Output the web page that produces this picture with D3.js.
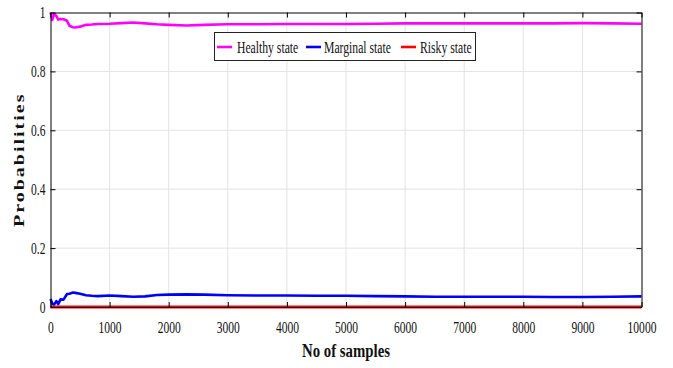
<!DOCTYPE html>
<html>
<head>
<meta charset="utf-8">
<script src="https://cdn.jsdelivr.net/npm/d3@7"></script>
<style>
  html, body { margin: 0; padding: 0; background: #fff; }
  svg { display: block; }
  svg text { font-family: "Liberation Serif", "Times New Roman", serif; }
  .grid line { stroke: #e3e3e3; stroke-width: 1; }
</style>
</head>
<body>
<svg id="chart" width="673" height="368"></svg>
<script>
// Sample positions (x) and probability per state
const samples = [0, 30, 60, 100, 130, 170, 220, 280, 320, 380, 420, 500, 600, 700, 800,
  1000, 1200, 1400, 1600, 1800, 2000, 2300, 2600, 3000, 3500, 4000, 4500, 5000, 5500,
  6000, 6500, 7000, 7500, 8000, 8500, 9000, 9500, 10000];
const healthy = [1.0, 0.975, 0.995, 0.988, 0.976, 0.978, 0.977, 0.972, 0.955, 0.950, 0.949,
  0.952, 0.958, 0.959, 0.961, 0.962, 0.964, 0.966, 0.963, 0.960, 0.958, 0.956, 0.958, 0.960,
  0.960, 0.961, 0.961, 0.961, 0.962, 0.963, 0.963, 0.963, 0.963, 0.963, 0.963, 0.964, 0.963, 0.962];
const marginal = [0.027, 0.012, 0.008, 0.020, 0.010, 0.026, 0.025, 0.044, 0.045, 0.049, 0.048,
  0.045, 0.040, 0.038, 0.037, 0.039, 0.037, 0.035, 0.036, 0.041, 0.042, 0.043, 0.042, 0.040,
  0.039, 0.039, 0.038, 0.038, 0.037, 0.036, 0.035, 0.035, 0.035, 0.035, 0.034, 0.034, 0.035, 0.036];
const risky = samples.map(() => 0);

const seriesNames = ['Healthy state', 'Marginal state', 'Risky state'];
const seriesColors = ['#ff00ff', '#0000ff', '#ff0000'];
const xTicks = d3.range(0, 10001, 1000);
const yTicks = [0, 0.2, 0.4, 0.6, 0.8, 1];

const SX = 0.72; // the reference text is horizontally squeezed

const svg = d3.select('#chart');
const L = 50.5, R = 641.5, T = 12.5, B = 307;
const x = d3.scaleLinear().domain([0, 10000]).range([L, R]);
const y = d3.scaleLinear().domain([0, 1]).range([B, T]);

// grid
const grid = svg.append('g').attr('class', 'grid');
grid.selectAll('.gx').data(xTicks.slice(1, -1)).enter().append('line')
  .attr('x1', d => x(d)).attr('x2', d => x(d)).attr('y1', T).attr('y2', B);
grid.selectAll('.gy').data(yTicks.slice(1, -1)).enter().append('line')
  .attr('x1', L).attr('x2', R).attr('y1', d => y(d)).attr('y2', d => y(d));

// series lines
const line = d3.line().x((d, i) => x(samples[i])).y(d => y(d));
[healthy, marginal, risky].forEach((vals, k) => {
  svg.append('path')
    .attr('d', line(vals))
    .attr('fill', 'none')
    .attr('stroke', seriesColors[k])
    .attr('stroke-width', k === 2 ? 3 : 2.6)
    .attr('stroke-linejoin', 'round');
});

// axes (ticks pointing inward, box all round)
const tickFmt = d3.format('');
const xb = svg.append('g').attr('transform', `translate(0,${B})`)
  .call(d3.axisBottom(x).tickValues(xTicks).tickSizeInner(-5).tickSizeOuter(0).tickPadding(15).tickFormat(tickFmt));
const xt = svg.append('g').attr('transform', `translate(0,${T})`)
  .call(d3.axisTop(x).tickValues(xTicks).tickSizeInner(-5).tickSizeOuter(0).tickFormat(''));
const yl = svg.append('g').attr('transform', `translate(${L},0)`)
  .call(d3.axisLeft(y).tickValues(yTicks).tickSizeInner(-5).tickSizeOuter(0).tickPadding(7).tickFormat(tickFmt));
const yr = svg.append('g').attr('transform', `translate(${R},0)`)
  .call(d3.axisRight(y).tickValues(yTicks).tickSizeInner(-5).tickSizeOuter(0).tickFormat(''));

[xb, xt, yl, yr].forEach(g => {
  g.attr('font-family', null).attr('font-size', 16);
  g.select('.domain').attr('stroke', '#000');
  g.selectAll('.tick line').attr('stroke', '#000');
});
[xb, yl].forEach(g => {
  g.selectAll('.tick text')
    .style('font-family', '"Liberation Serif", "Times New Roman", serif')
    .style('font-size', '16px')
    .attr('fill', '#111')
    .attr('transform', `scale(${SX},1)`);
});

// axis titles
svg.append('text')
  .attr('transform', `translate(${(L + R) / 2},357) scale(0.78,1)`)
  .attr('text-anchor', 'middle')
  .attr('font-weight', 'bold').attr('font-size', 19).attr('fill', '#111')
  .text('No of samples');
svg.append('text')
  .attr('transform', `translate(24,${(T + B) / 2}) scale(0.75,1) rotate(-90)`)
  .attr('text-anchor', 'middle')
  .attr('font-weight', 'bold').attr('font-size', 20).attr('letter-spacing', 2).attr('fill', '#111')
  .text('Probabilities');

// legend
const lg = svg.append('g');
lg.append('rect').attr('x', 214.5).attr('y', 32.5).attr('width', 261).attr('height', 28)
  .attr('fill', '#fff').attr('stroke', '#222').attr('stroke-width', 1);
const legendX = [[217, 237], [306, 324], [401, 420]];
seriesNames.forEach((name, k) => {
  const [lx, tx] = legendX[k];
  lg.append('line').attr('x1', lx).attr('x2', lx + 15).attr('y1', 47).attr('y2', 47)
    .attr('stroke', seriesColors[k]).attr('stroke-width', 2.6);
  lg.append('text')
    .attr('transform', `translate(${tx},53) scale(0.73,1)`)
    .attr('font-size', 16).attr('fill', '#111')
    .text(name);
});
</script>
</body>
</html>
